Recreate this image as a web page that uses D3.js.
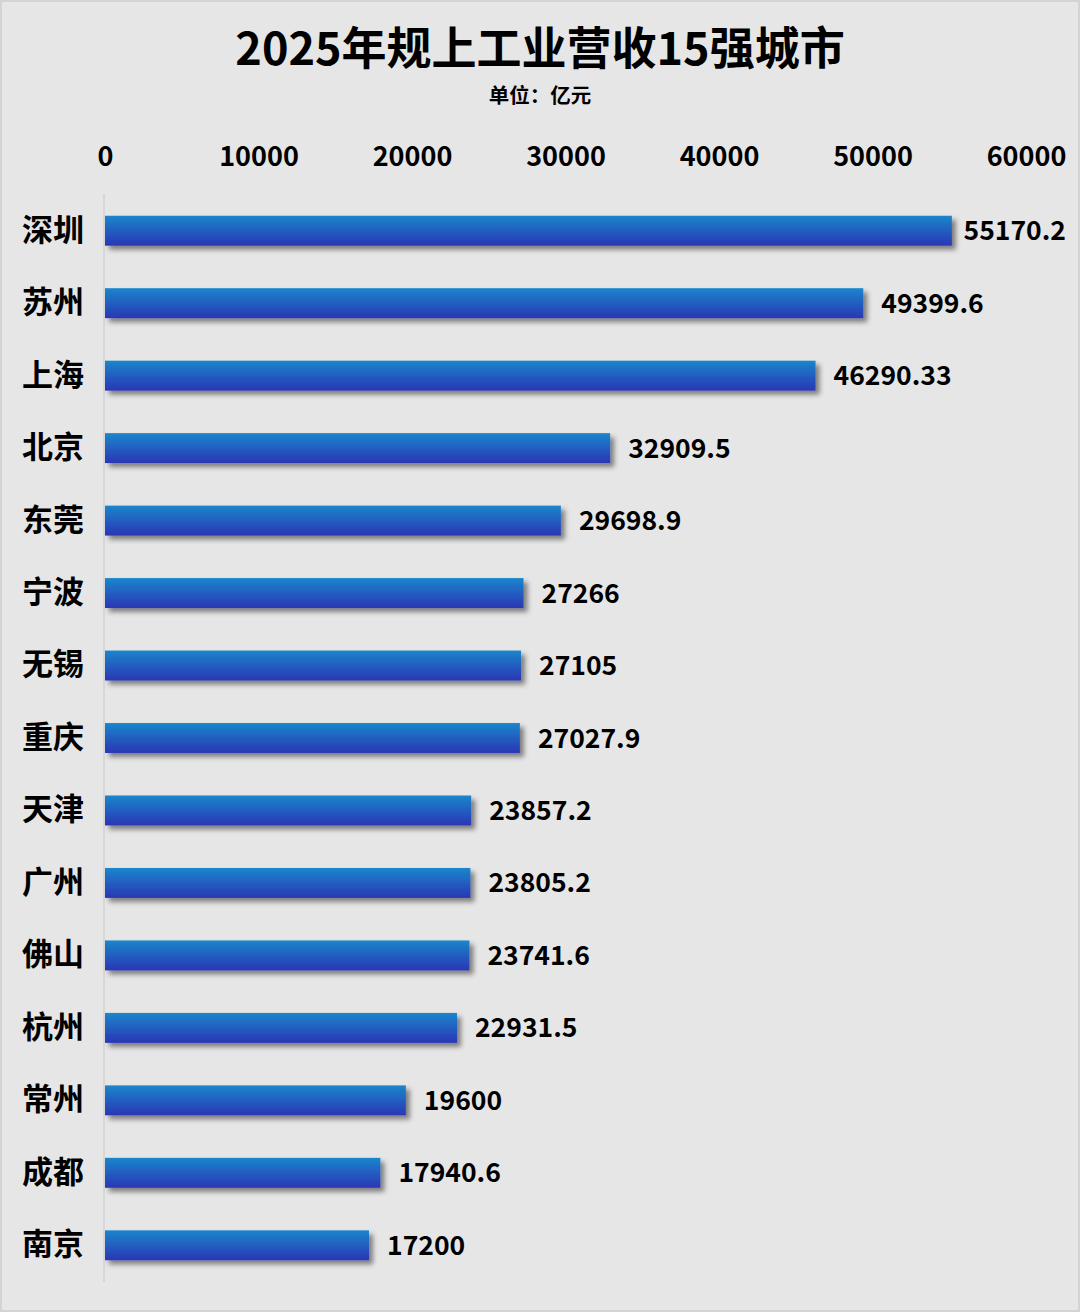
<!DOCTYPE html>
<html>
<head>
<meta charset="utf-8">
<script src="https://cdn.jsdelivr.net/npm/d3@7/dist/d3.min.js"></script>
<style>
  html, body { margin: 0; padding: 0; background: #ffffff; }
  svg { display: block; }
  text { font-family: "Noto Sans CJK SC", "Noto Sans", sans-serif; font-weight: bold; fill: #000; }
</style>
</head>
<body>
<div class="displayArea"></div>
<script>
const width = 1080, height = 1312;

// data
var cities = ["深圳", "苏州", "上海", "北京", "东莞", "宁波", "无锡", "重庆", "天津", "广州", "佛山", "杭州", "常州", "成都", "南京"];
var revenue = [55170.2, 49399.6, 46290.33, 32909.5, 29698.9, 27266, 27105, 27027.9, 23857.2, 23805.2, 23741.6, 22931.5, 19600, 17940.6, 17200];
var revenueLabels = ["55170.2", "49399.6", "46290.33", "32909.5", "29698.9", "27266", "27105", "27027.9", "23857.2", "23805.2", "23741.6", "22931.5", "19600", "17940.6", "17200"];
var xTicks = [0, 10000, 20000, 30000, 40000, 50000, 60000];

var svg = d3.select(".displayArea")
    .append("svg")
    .attr("width", width)
    .attr("height", height);

// background + frame
svg.append("rect")
    .attr("x", 1).attr("y", 1)
    .attr("width", width - 2).attr("height", height - 2)
    .attr("fill", "#e6e6e6")
    .attr("stroke", "#d4d4d4")
    .attr("stroke-width", 2);

var defs = svg.append("defs");
var grad = defs.append("linearGradient")
    .attr("id", "barGrad")
    .attr("x1", 0).attr("y1", 0).attr("x2", 0).attr("y2", 1);
grad.append("stop").attr("offset", "0%").attr("stop-color", "#1a86cc");
grad.append("stop").attr("offset", "100%").attr("stop-color", "#2b36b4");

var shadow = defs.append("filter")
    .attr("id", "shadow")
    .attr("x", "-5%").attr("y", "-50%")
    .attr("width", "110%").attr("height", "220%");
shadow.append("feDropShadow")
    .attr("dx", 4).attr("dy", 4)
    .attr("stdDeviation", 2.5)
    .attr("flood-color", "#000")
    .attr("flood-opacity", 0.45);

var xScale = d3.scaleLinear()
    .domain([0, 60000])
    .range([105, 1026]);

var yScale = d3.scaleBand()
    .domain(cities)
    .range([194, 1282])
    .paddingInner(0.587)
    .paddingOuter(0.3);

// title
svg.append("text")
    .attr("x", 540).attr("y", 65)
    .attr("text-anchor", "middle")
    .attr("font-size", 45)
    .text("2025年规上工业营收15强城市");

svg.append("text")
    .attr("x", 540).attr("y", 103)
    .attr("text-anchor", "middle")
    .attr("font-size", 20.5)
    .text("单位：亿元");

// top axis labels
var xAxis = d3.axisTop()
    .scale(xScale)
    .tickValues(xTicks)
    .tickSize(0)
    .tickPadding(0)
    .tickFormat(d3.format("d"));

var gx = svg.append("g")
    .attr("transform", "translate(0,166)")
    .call(xAxis);
gx.select(".domain").remove();
gx.selectAll("text")
    .attr("font-size", 27)
    .attr("font-family", null)
    .attr("fill", "#000");

// vertical axis line
svg.append("line")
    .attr("x1", 104).attr("x2", 104)
    .attr("y1", 194).attr("y2", 1282)
    .attr("stroke", "#d2d2d2")
    .attr("stroke-width", 1.5);

// category labels
var yAxis = d3.axisLeft()
    .scale(yScale)
    .tickSize(0)
    .tickPadding(20);

var gy = svg.append("g")
    .attr("transform", "translate(104,0)")
    .call(yAxis);
gy.select(".domain").remove();
gy.selectAll("text")
    .attr("font-size", 31)
    .attr("font-family", null)
    .attr("fill", "#000");

// bars
var g = svg.selectAll("g.bar")
    .data(revenue)
    .enter()
    .append("g")
    .attr("class", "bar");

g.append("rect")
    .attr("x", xScale(0))
    .attr("y", function (d, i) { return yScale(cities[i]); })
    .attr("width", function (d) { return xScale(d) - xScale(0); })
    .attr("height", yScale.bandwidth())
    .attr("fill", "url(#barGrad)")
    .attr("filter", "url(#shadow)");

g.append("text")
    .attr("y", function (d, i) { return yScale(cities[i]) + yScale.bandwidth() / 2; })
    .attr("dy", "0.36em")
    .attr("font-size", 26.5)
    .text(function (d, i) { return revenueLabels[i]; })
    .attr("x", function (d) {
        // keep labels inside the frame, like the original does for the top bar
        var w = this.getComputedTextLength();
        return Math.min(xScale(d) + 18, width - 14 - w);
    });
</script>
</body>
</html>
